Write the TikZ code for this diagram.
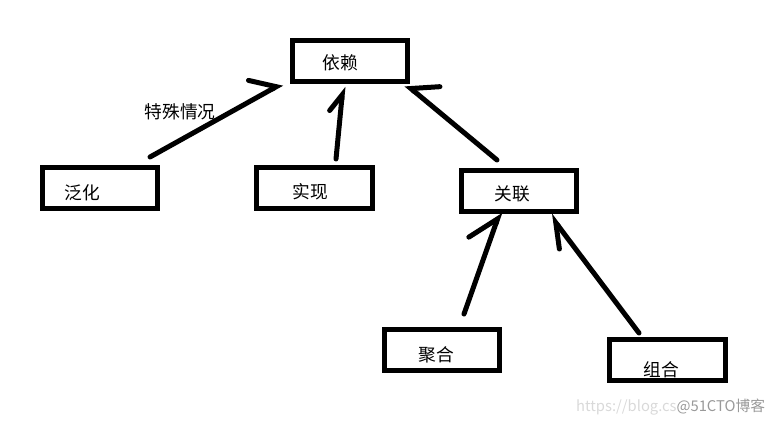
\documentclass[tikz,border=0pt]{standalone}
\usepackage{fontspec}
\setmainfont{Noto Sans CJK SC}
\usetikzlibrary{arrows.meta}

\tikzset{
  estilo diagrama/.style={
      x=0.025cm, y=-0.025cm,
      caja/.style={rectangle, draw, line width=0.125cm, minimum width=2.875cm,
          minimum height=1.025cm, inner sep=0pt},
      flecha/.style={line width=0.125cm, line cap=round,
          -{Straight Barb[harpoon, length=0.53cm, width=0.95cm, line cap=round]}},
      every node/.style={font={\fontsize{12.6}{14}\selectfont}},
    },
}

\begin{document}
\begin{tikzpicture}[estilo diagrama]
    \useasboundingbox (0,0) rectangle (780,424);

    \node[caja, label={[shift={(-10,2.5)}]center:依赖}] (dependencia) at (350,60.5) {};
    \node[caja, label={[shift={(-18,5)}]center:泛化}] (generalizacion) at (100,188) {};
    \node[caja, label={[shift={(-4,4)}]center:实现}] (realizacion) at (314.5,188) {};
    \node[caja, label={[shift={(-7,3)}]center:关联}] (asociacion) at (519,191) {};
    \node[caja, label={[shift={(-6,5)}]center:聚合}] (agregacion) at (442,350) {};
    \node[caja, label={[shift={(-6,10)}]center:组合}] (composicion) at (667.5,360) {};
    \node (especial) at (180,112) {特殊情况};

    \draw[flecha] ([shift={(-10,-8)}]generalizacion.north east)
      to ([shift={(-8,0)}]dependencia.south west);
    \draw[flecha, -{Straight Barb[harpoon, length=0.42cm, width=0.55cm, line cap=round]}]
      ([shift={(21.5,-6)}]realizacion.north) to ([shift={(-7,3)}]dependencia.south);
    \draw[flecha, -{Straight Barb[harpoon, swap, length=0.53cm, width=1cm, line cap=round]}]
      ([shift={(-22,-8)}]asociacion.north) to ([shift={(-4,1)}]dependencia.south east);
    \draw[flecha, -{Straight Barb[harpoon, length=0.67cm, width=1.05cm, line cap=round]}]
      ([shift={(22,-13)}]agregacion.north) to ([shift={(-19,-2)}]asociacion.south);
    \draw[flecha, -{Straight Barb[harpoon, length=0.58cm, width=0.65cm, line cap=round]}]
      ([shift={(-28.5,-4)}]composicion.north) to ([shift={(-29,1)}]asociacion.south east);

    \node[font={\fontsize{10.5}{12}\selectfont}, text=black!15, anchor=east] (marca) at (770,407)
      {https://blog.cs\textcolor{black!40}{@51CTO博客}};
  \end{tikzpicture}
\end{document}
